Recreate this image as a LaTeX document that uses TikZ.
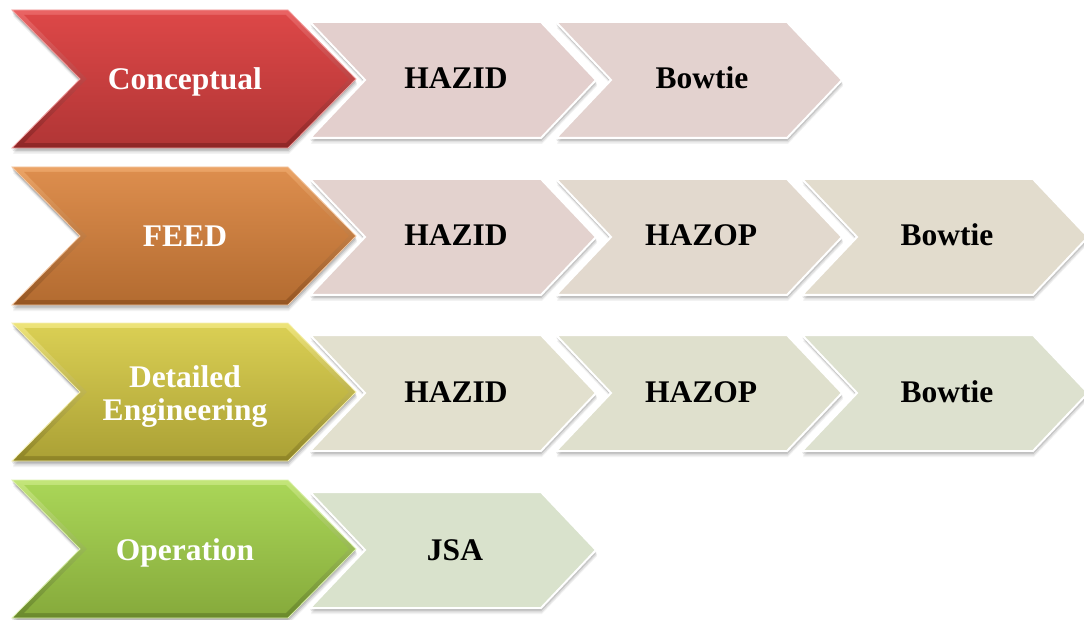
\documentclass[tikz,border=0pt]{standalone}
\usepackage{fontspec}
\setmainfont{Liberation Serif}
\usetikzlibrary{calc}
% chevron path: x0, yc, width, half height, slant, inset, style
\newcommand\chv[7]{\path[#7] ({#1+#6*2.414},{#2-#4+#6}) -- ({#1+#3-#5-#6*0.414},{#2-#4+#6}) -- ({#1+#3-#6*1.414},{#2}) -- ({#1+#3-#5-#6*0.414},{#2+#4-#6}) -- ({#1+#6*2.414},{#2+#4-#6}) -- ({#1+#5+#6*1.414},{#2}) -- cycle;}
% soft shadow
\newcommand\chshadow[5]{%
  \chv{#1}{#2+1.5}{#3}{#4}{#5}{0}{fill=black,opacity=.12}%
  \chv{#1+0.5}{#2+3}{#3}{#4}{#5}{0}{fill=black,opacity=.11}%
  \chv{#1+1}{#2+4.5}{#3}{#4}{#5}{0}{fill=black,opacity=.08}%
  \chv{#1+1}{#2+6}{#3}{#4}{#5}{0}{fill=black,opacity=.05}}
% small chevron
\newcommand\smallchev[3]{% x0, yc, colour
  \chshadow{#1}{#2}{286}{58}{55}%
  \chv{#1}{#2}{286}{58}{55}{0}{fill=#3,draw=white,line width=2}}
% big chevron
\newcommand\bigchev[6]{% yc, outer top, outer bottom, inner top, inner bottom, edge
  \chshadow{12}{#1}{344}{69}{68}%
  \chv{12}{#1}{344}{69}{68}{0}{top color=#2,bottom color=#3,draw=#6,line width=0.8}%
  \chv{12}{#1}{344}{69}{68}{5}{top color=#4,bottom color=#5}}
\definecolor{rOT}{HTML}{EA6464}\definecolor{rOB}{HTML}{8E2626}
\definecolor{rIT}{HTML}{DC4747}\definecolor{rIB}{HTML}{B23636}
\definecolor{oOT}{HTML}{ECA466}\definecolor{oOB}{HTML}{955522}
\definecolor{oIT}{HTML}{DC8D4D}\definecolor{oIB}{HTML}{B46C31}
\definecolor{yOT}{HTML}{EEE47A}\definecolor{yOB}{HTML}{8E8426}
\definecolor{yIT}{HTML}{D9CE53}\definecolor{yIB}{HTML}{ACA236}
\definecolor{gOT}{HTML}{C4E67A}\definecolor{gOB}{HTML}{6A892C}
\definecolor{gIT}{HTML}{A9D557}\definecolor{gIB}{HTML}{87AB3C}
\definecolor{s11}{HTML}{E3CFCD}\definecolor{s12}{HTML}{E3D2CF}
\definecolor{s21}{HTML}{E3D2CE}\definecolor{s22}{HTML}{E2D9CE}\definecolor{s23}{HTML}{E2DCCD}
\definecolor{s31}{HTML}{E2E0CE}\definecolor{s32}{HTML}{DFE0CD}\definecolor{s33}{HTML}{DDE1CF}
\definecolor{s41}{HTML}{D9E2CC}
\tikzset{
  bigtxt/.style={text=white,font=\fontsize{31.5}{33}\selectfont\bfseries,align=center,inner sep=0pt,anchor=base},
  smalltxt/.style={text=black,font=\fontsize{31.5}{33}\selectfont\bfseries,inner sep=0pt,anchor=base},
}
\begin{document}
\begin{tikzpicture}[x=1pt,y=-1pt]
\useasboundingbox (0,0) rectangle (1084,620);
% row 1
\smallchev{556}{80}{s12}
\smallchev{310}{80}{s11}
\bigchev{79}{rOT}{rOB}{rIT}{rIB}{rOT!60!white}
\node[bigtxt] (c1) at (185,90) {Conceptual};
\node[smalltxt] (h1) at (456,89) {HAZID};
\node[smalltxt] (b1) at (702,89) {Bowtie};
% row 2
\smallchev{802}{237}{s23}
\smallchev{556}{237}{s22}
\smallchev{310}{237}{s21}
\bigchev{236}{oOT}{oOB}{oIT}{oIB}{oOT!60!white}
\node[bigtxt] (c2) at (185,247) {FEED};
\node[smalltxt] (h2) at (456,246) {HAZID};
\node[smalltxt] (z2) at (701,246) {HAZOP};
\node[smalltxt] (b2) at (947,246) {Bowtie};
% row 3
\smallchev{802}{393}{s33}
\smallchev{556}{393}{s32}
\smallchev{310}{393}{s31}
\bigchev{392}{yOT}{yOB}{yIT}{yIB}{yOT!60!white}
\node[bigtxt,anchor=center] (c3) at (185,396.5) {Detailed\\Engineering};
\node[smalltxt] (h3) at (456,402) {HAZID};
\node[smalltxt] (z3) at (701,402) {HAZOP};
\node[smalltxt] (b3) at (947,402) {Bowtie};
% row 4
\smallchev{310}{550}{s41}
\bigchev{549}{gOT}{gOB}{gIT}{gIB}{gOT!60!white}
\node[bigtxt] (c4) at (185,560) {Operation};
\node[smalltxt] (j4) at (455,560) {JSA};
\end{tikzpicture}
\end{document}
